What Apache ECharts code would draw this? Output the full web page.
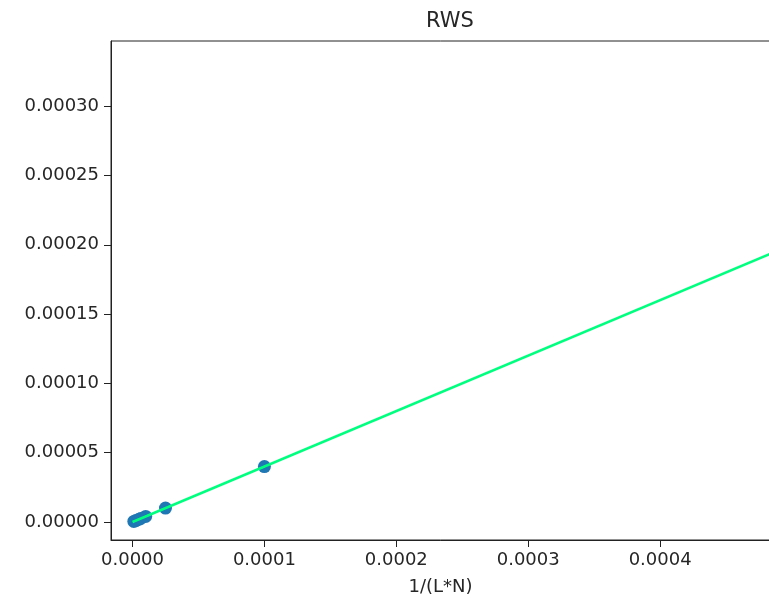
<!DOCTYPE html>
<html>
<head>
<meta charset="utf-8">
<script src="https://cdn.jsdelivr.net/npm/echarts@6/dist/echarts.min.js"></script>
<style>
  html, body { margin: 0; padding: 0; background: #fff; }
  #chart { width: 769px; height: 598px; }
</style>
</head>
<body>
<div id="chart"></div>
<script>
// measured points: x = 1/(L*N), y = RWS
const xValues = [0.000001, 0.0000025, 0.000005, 0.00000625, 0.00001, 0.000025, 0.0001];
const yValues = [0.0000004, 0.000001, 0.000002, 0.0000025, 0.000004, 0.00001, 0.00004];

// fitted line endpoints
const fitX = [0, 0.0006];
const fitY = [0, 0.00024];

const xTicks = [0, 0.0001, 0.0002, 0.0003, 0.0004];
const yTicks = [0, 0.00005, 0.0001, 0.00015, 0.0002, 0.00025, 0.0003];

const chart = echarts.init(document.getElementById('chart'));

const font = 'DejaVu Sans';
const textColor = '#262626';

const option = {
  animation: false,
  title: {
    text: 'RWS',
    left: 445,
    textAlign: 'center',
    top: 6,
    textStyle: { fontFamily: font, fontSize: 21, fontWeight: 'normal', color: textColor },
  },
  grid: {
    left: 111,
    top: 41,
    width: 659,
    bottom: 58,
    outerBoundsMode: 'none',
    containLabel: false,
    show: true,
    borderColor: '#222',
    borderWidth: 1,
    backgroundColor: '#fff',
  },
  xAxis: {
    type: 'value',
    min: -0.0000163,
    max: 0.0004833,
    name: '1/(L*N)',
    nameLocation: 'middle',
    nameGap: 38,
    nameTextStyle: { fontFamily: font, fontSize: 18, color: textColor },
    splitLine: { show: false },
    axisLine: { show: true, onZero: false, lineStyle: { color: '#222' } },
    axisTick: { show: true, length: 7, customValues: xTicks, lineStyle: { color: '#222' } },
    axisLabel: {
      customValues: xTicks,
      fontFamily: font,
      fontSize: 18,
      color: textColor,
      margin: 11,
      formatter: (v) => v.toFixed(4),
    },
  },
  yAxis: {
    type: 'value',
    min: -0.000013,
    max: 0.000347,
    splitLine: { show: false },
    axisLine: { show: true, onZero: false, lineStyle: { color: '#222' } },
    axisTick: { show: true, length: 7, customValues: yTicks, lineStyle: { color: '#222' } },
    axisLabel: {
      customValues: yTicks,
      fontFamily: font,
      fontSize: 18,
      color: textColor,
      margin: 12,
      formatter: (v) => v.toFixed(5),
    },
  },
  series: [
    {
      type: 'scatter',
      data: xValues.map((x, i) => [x, yValues[i]]),
      symbolSize: 13,
      itemStyle: { color: '#1f77b4', opacity: 1 },
      z: 2,
    },
    {
      type: 'line',
      data: fitX.map((x, i) => [x, fitY[i]]),
      showSymbol: false,
      clip: true,
      lineStyle: { color: '#00ff7f', width: 2.5 },
      z: 3,
    },
  ],
};

chart.setOption(option);
</script>
</body>
</html>
